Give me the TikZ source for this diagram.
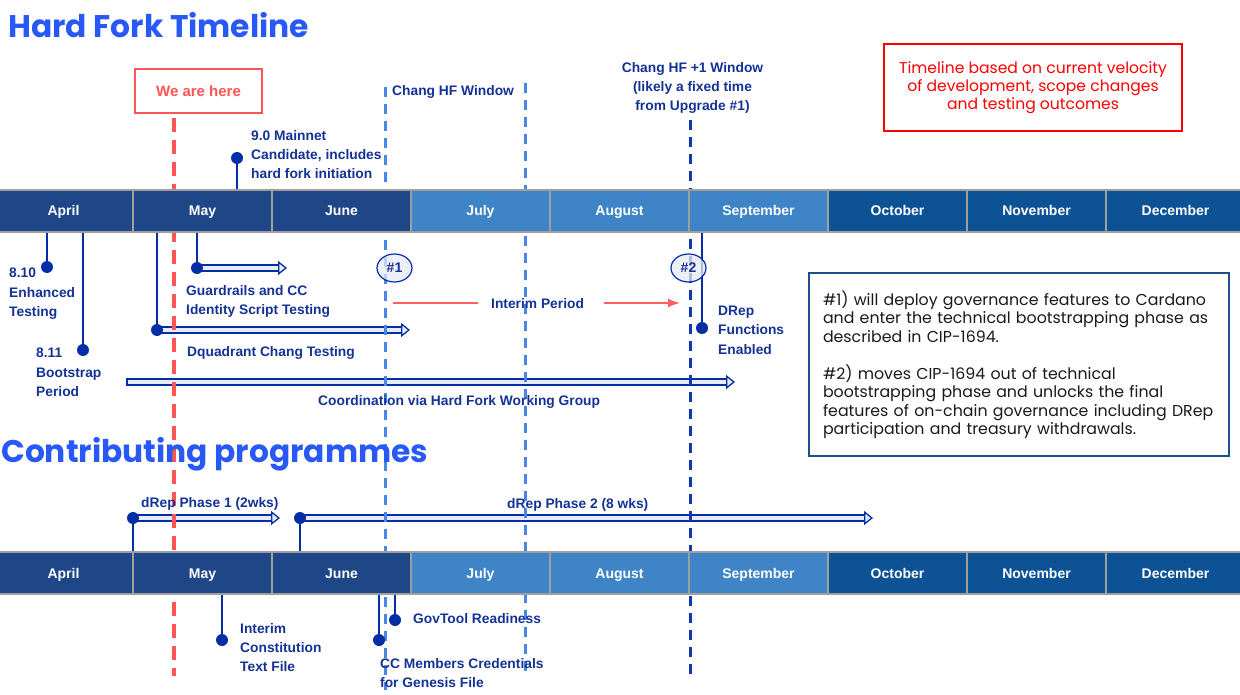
\documentclass[tikz,border=0pt]{standalone}
\usepackage{fontspec}
\setmainfont{Liberation Sans}
\newfontfamily\poppins{Poppins}
\usetikzlibrary{arrows.meta,shapes.geometric}

\definecolor{titleblue}{RGB}{40,88,245}
\definecolor{navy}{RGB}{20,50,150}
\definecolor{pinblue}{RGB}{5,45,165}
\definecolor{earlyblue}{RGB}{31,71,136}
\definecolor{midblue}{RGB}{63,132,198}
\definecolor{lateblue}{RGB}{14,82,150}
\definecolor{hfblue}{RGB}{74,134,232}
\definecolor{nextblue}{RGB}{20,55,175}
\definecolor{herered}{RGB}{255,85,85}
\definecolor{gapred}{RGB}{255,95,95}
\definecolor{boxblue}{RGB}{31,78,140}
\definecolor{spanfill}{RGB}{232,236,246}
\definecolor{hashfill}{RGB}{230,234,242}

\pgfdeclarelayer{spans}
\pgfdeclarelayer{guides}
\pgfsetlayers{spans,guides,main}

\tikzset{
  month/.style={draw=gray!75,line width=1.2pt,minimum width=139pt,minimum height=42pt,
    inner sep=0pt,text height=10pt,text depth=0pt,text=white,
    font=\fontsize{14}{16}\selectfont\bfseries},
  lbl/.style={anchor=north west,inner sep=0pt,align=left,text=navy,
    font=\fontsize{13.8}{19.3}\selectfont\bfseries},
  dot/.style={circle,fill=pinblue,inner sep=0pt,minimum size=12pt},
  pinline/.style={draw=pinblue,line width=2.5pt},
  span/.style={draw=pinblue,double=spanfill,double distance=4.6pt,line width=1.4pt,
    line cap=rect,-{Triangle[open,fill=spanfill,length=9pt,width=14pt,line width=1.3pt]}},
  heredash/.style={draw=herered,line width=4pt,dash pattern=on 14pt off 8pt},
  hfdash/.style={draw=hfblue,line width=3pt,dash pattern=on 10pt off 7pt},
  nextdash/.style={draw=nextblue,line width=3pt,dash pattern=on 10pt off 7pt},
  upgrade/.style={ellipse,draw=pinblue,line width=1.2pt,fill=hashfill,fill opacity=.75,
    text opacity=1,minimum width=35pt,minimum height=28pt,inner sep=0pt,text=navy,
    font=\fontsize{14}{16}\selectfont\bfseries},
  gapline/.style={draw=gapred,line width=1.5pt},
  heading/.style={anchor=north west,inner sep=0pt,text=titleblue,
    font=\poppins\fontsize{31.3}{36}\selectfont\bfseries},
  herebox/.style={draw=herered,line width=2.5pt,minimum width=127pt,minimum height=44pt,
    text=herered,font=\fontsize{15}{17}\selectfont\bfseries},
  caveat/.style={draw=red,line width=2.5pt,minimum width=298pt,minimum height=87pt,
    align=center,text=red,font=\poppins\fontsize{15.6}{18}\selectfont},
  notebox/.style={draw=boxblue,line width=2.5pt,minimum width=420pt,minimum height=183pt,
    text width=392pt,inner xsep=14pt,align=left,text=black!90,
    font=\poppins\fontsize{15.8}{18.5}\selectfont}
}

\begin{document}
\begin{tikzpicture}[x=1pt,y=-1pt]
  \clip (0,0) rectangle (1240,695);

  \node[heading] (title) at (8,12) {Hard Fork Timeline};
  \node[heading] (contrib) at (1,437) {Contributing programmes};

  % month bars
  \foreach \m/\c [count=\i from 0] in {April/earlyblue,May/earlyblue,June/earlyblue,
      July/midblue,August/midblue,September/midblue,October/lateblue,November/lateblue,
      December/lateblue} {
    \node[month,fill=\c] (hf\i) at (63.5+139*\i,211) {\m};
    \node[month,fill=\c] (cp\i) at (63.5+139*\i,573) {\m};
  }

  \node[herebox] (here) at (198.5,91) {We are here};
  \node[caveat] (caveat) at (1033,87.5)
    {Timeline based on current velocity\\of development, scope changes\\and testing outcomes};

  \begin{pgfonlayer}{guides}
    \coordinate (here-top) at (174,118);
    \coordinate (here-bot) at (174,676);
    \draw[heredash] (here-top) -- (here-bot);
    \coordinate (hfwin-top) at (385,87);
    \coordinate (hfwin-bot) at (385,690);
    \draw[hfdash] (hfwin-top) -- (hfwin-bot);
    \coordinate (hfend-top) at (525,83);
    \coordinate (hfend-bot) at (525,673);
    \draw[hfdash] (hfend-top) -- (hfend-bot);
    \coordinate (next-top) at (690,120);
    \coordinate (next-bot) at (690,677);
    \draw[nextdash] (next-top) -- (next-bot);
  \end{pgfonlayer}

  \node[lbl] (hfwin-txt) at (392,85) {Chang HF Window};
  \node[lbl,anchor=north,align=center] (next-txt) at (692.5,62)
    {Chang HF +1 Window\\(likely a fixed time\\from Upgrade \#1)};

  % hard fork timeline
  \node[dot] (mainnet) at (237,158) {};
  \draw[pinline] (mainnet) -- (mainnet |- hf1.north);
  \node[lbl] (mainnet-txt) at (251,130) {9.0 Mainnet\\Candidate, includes\\hard fork initiation};

  \node[dot] (enhanced) at (47,267) {};
  \draw[pinline] (enhanced) -- (enhanced |- hf0.south);
  \node[lbl] (enhanced-txt) at (9,268) {8.10\\Enhanced\\Testing};

  \node[dot] (bootstrap) at (83,350) {};
  \draw[pinline] (bootstrap) -- (bootstrap |- hf0.south);
  \node[lbl] (bootstrap-txt) at (36,348) {8.11\\Bootstrap\\Period};

  \node[dot] (guard) at (197,268) {};
  \draw[pinline] (guard) -- (guard |- hf1.south);
  \coordinate (guard-end) at (287,268);
  \node[lbl] (guard-txt) at (186,285) {Guardrails and CC\\Identity Script Testing};

  \node[dot] (dquad) at (157,330) {};
  \draw[pinline] (dquad) -- (dquad |- hf1.south);
  \coordinate (dquad-end) at (410,330);
  \node[lbl] (dquad-txt) at (187,346) {Dquadrant Chang Testing};

  \coordinate (coord-start) at (130,382);
  \coordinate (coord-end) at (735,382);
  \node[lbl] (coord-txt) at (318,395) {Coordination via Hard Fork Working Group};

  \node[dot] (drep) at (702,328) {};
  \draw[pinline] (drep) -- (drep |- hf5.south);
  \node[lbl] (drep-txt) at (718,306) {DRep\\Functions\\Enabled};

  \node[upgrade] (hash1) at (394.5,268) {\#1};
  \node[upgrade] (hash2) at (688.5,268) {\#2};
  \node[lbl] (interim) at (491,298) {Interim Period};
  \coordinate (gap-start) at (393,303);
  \coordinate (gap-end) at (680,303);
  \draw[gapline,shorten >=13pt] (gap-start) -- (gap-start -| interim.west);
  \draw[gapline,shorten <=20pt,-{Latex[length=12pt,width=9pt]}]
    (interim.east |- gap-end) -- (gap-end);

  \node[notebox] (notes) at (1019,364.5)
    {\#1) will deploy governance features to Cardano\\
     and enter the technical bootstrapping phase as\\
     described in CIP-1694.\\[18.5pt]
     \#2) moves CIP-1694 out of technical\\
     bootstrapping phase and unlocks the final\\
     features of on-chain governance including DRep\\
     participation and treasury withdrawals.};

  % contributing programmes
  \node[dot] (phase1) at (133,518) {};
  \draw[pinline] (phase1) -- (phase1 |- cp1.north);
  \coordinate (phase1-end) at (280,518);
  \node[lbl] (phase1-txt) at (141,497) {dRep Phase 1 (2wks)};

  \node[dot] (phase2) at (300,518) {};
  \draw[pinline] (phase2) -- (phase2 |- cp2.north);
  \coordinate (phase2-end) at (873,518);
  \node[lbl] (phase2-txt) at (507,498) {dRep Phase 2 (8 wks)};

  \node[dot] (constitution) at (222,640) {};
  \draw[pinline] (constitution) -- (constitution |- cp1.south);
  \node[lbl] (constitution-txt) at (240,623) {Interim\\Constitution\\Text File};

  \node[dot] (ccmembers) at (379,640) {};
  \draw[pinline] (ccmembers) -- (ccmembers |- cp2.south);
  \node[lbl] (ccmembers-txt) at (380,658) {CC Members Credentials\\for Genesis File};

  \node[dot] (govtool) at (395,620) {};
  \draw[pinline] (govtool) -- (govtool |- cp2.south);
  \node[lbl] (govtool-txt) at (413,613) {GovTool Readiness};

  \begin{pgfonlayer}{spans}
    \draw[span] (guard) -- (guard-end);
    \draw[span] (dquad) -- (dquad-end);
    \draw[span] (coord-start) -- (coord-end);
    \draw[span] (phase1) -- (phase1-end);
    \draw[span] (phase2) -- (phase2-end);
  \end{pgfonlayer}
\end{tikzpicture}
\end{document}
